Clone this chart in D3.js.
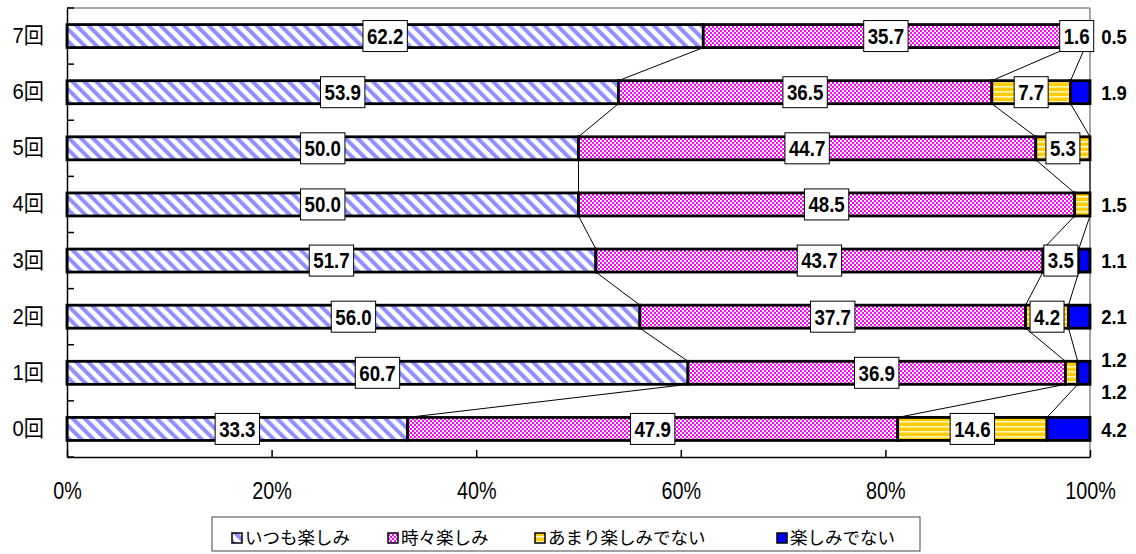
<!DOCTYPE html>
<html><head><meta charset="utf-8">
<script src="https://cdn.jsdelivr.net/npm/d3@7"></script>
<style>
html,body{margin:0;padding:0;background:#fff;}
svg{display:block;}
text{font-family:"Liberation Sans",Arial,"Noto Sans CJK JP",sans-serif;}
</style></head>
<body>
<svg id="chart" width="1136" height="554"></svg>
<script>
const categories = ["7回","6回","5回","4回","3回","2回","1回","0回"];
const seriesNames = ["いつも楽しみ","時々楽しみ","あまり楽しみでない","楽しみでない"];
const always    = [62.2, 53.9, 50.0, 50.0, 51.7, 56.0, 60.7, 33.3];
const sometimes = [35.7, 36.5, 44.7, 48.5, 43.7, 37.7, 36.9, 47.9];
const notMuch   = [1.6, 7.7, 5.3, 1.5, 3.5, 4.2, 1.2, 14.6];
const notAtAll  = [0.5, 1.9, 0, 0, 1.1, 2.1, 1.2, 4.2];
const xTicks = [0, 20, 40, 60, 80, 100];

const seriesVals = [always, sometimes, notMuch, notAtAll];
const svg = d3.select("#chart");
const L = 67, R = 1090, T = 8, B = 457;

const x = d3.scaleLinear().domain([0, 100]).range([L, R]);
const y = d3.scaleBand().domain(categories).range([T, B]).paddingInner(0.59).paddingOuter(0.295);

// patterns
const defs = svg.append("defs");
const p0 = defs.append("pattern").attr("id","pat0").attr("patternUnits","userSpaceOnUse")
  .attr("width",8.5).attr("height",8.5).attr("patternTransform","rotate(-45)");
p0.append("rect").attr("width",8.5).attr("height",8.5).attr("fill","#fff");
p0.append("rect").attr("width",4).attr("height",8.5).attr("fill","#8f8fff");

const p1 = defs.append("pattern").attr("id","pat1").attr("patternUnits","userSpaceOnUse")
  .attr("width",4).attr("height",4);
p1.append("rect").attr("width",4).attr("height",4).attr("fill","#ff00ff");
p1.append("rect").attr("width",2).attr("height",2).attr("fill","#fff");
p1.append("rect").attr("x",2).attr("y",2).attr("width",2).attr("height",2).attr("fill","#fff");

const p2 = defs.append("pattern").attr("id","pat2").attr("patternUnits","userSpaceOnUse")
  .attr("width",4).attr("height",5);
p2.append("rect").attr("width",4).attr("height",5).attr("fill","#ffcc00");
p2.append("rect").attr("y",1).attr("width",4).attr("height",1.6).attr("fill","#fff8c0");

const fills = ["url(#pat0)","url(#pat1)","url(#pat2)","#0000ff"];

// frame
svg.append("line").attr("x1",L).attr("x2",R).attr("y1",T).attr("y2",T).attr("stroke","#888").attr("stroke-width",1.5);
svg.append("line").attr("x1",R).attr("x2",R).attr("y1",T).attr("y2",B).attr("stroke","#888").attr("stroke-width",1.5);

// stacked data
const stacks = categories.map((c, i) => {
  let acc = 0;
  return seriesVals.map((s, k) => { const v = s[i]; const seg = {cat:c, k, v, x0:acc, x1:acc+v}; acc += v; return seg; });
});

// connector (series) lines
const conn = svg.append("g");
for (let i = 0; i < categories.length - 1; i++) {
  for (let k = 0; k < 3; k++) {
    conn.append("line")
      .attr("x1", x(stacks[i][k].x1)).attr("y1", y(categories[i]) + y.bandwidth())
      .attr("x2", x(stacks[i+1][k].x1)).attr("y2", y(categories[i+1]))
      .attr("stroke","#000").attr("stroke-width",1);
  }
}

// bars
const bars = svg.append("g");
stacks.forEach(row => {
  row.forEach(seg => {
    if (seg.v <= 0) return;
    bars.append("rect")
      .attr("x", x(seg.x0)).attr("y", y(seg.cat))
      .attr("width", x(seg.x1) - x(seg.x0)).attr("height", y.bandwidth())
      .attr("fill", fills[seg.k]).attr("stroke","#000").attr("stroke-width",2.8);
  });
});

// axes
const yAxis = d3.axisLeft(y).tickSize(0).tickPadding(0);
const gy = svg.append("g").attr("transform",`translate(${L},0)`).call(yAxis);
gy.select(".domain").attr("stroke","#000").attr("stroke-width",1.5);
gy.selectAll(".tick text").attr("x",0).attr("font-size",22).attr("fill","#000")
  .attr("transform","translate(-23,0) scale(0.92,1)");
// category separator ticks (inward)
const sepY = d3.range(categories.length + 1).map(j => T + j * y.step());
svg.append("g").selectAll("line").data(sepY).join("line")
  .attr("x1",L).attr("x2",L+7).attr("y1",d=>d).attr("y2",d=>d).attr("stroke","#000").attr("stroke-width",1.5);

const xAxis = d3.axisBottom(x).tickValues(xTicks).tickFormat(d => d + "%").tickSizeInner(-7).tickSizeOuter(0).tickPadding(24);
const gx = svg.append("g").attr("transform",`translate(0,${B})`).call(xAxis);
gx.select(".domain").attr("stroke","#000").attr("stroke-width",1.5);
gx.selectAll(".tick line").attr("stroke","#000").attr("stroke-width",1.5);
gx.selectAll(".tick text").attr("font-size",23).attr("fill","#000").attr("dy","0.8em")
  .attr("transform","scale(0.86,1)");

// labels
const lab = svg.append("g");
const outside = svg.append("g");
const sx = 0.85;
stacks.forEach(row => {
  const cy = y(row[0].cat) + y.bandwidth()/2;
  const outs = [];
  row.forEach(seg => {
    if (seg.v <= 0) return;
    if (seg.k < 3 && seg.v >= 1.6) {
      const cx = x((seg.x0 + seg.x1)/2);
      const g = lab.append("g").attr("transform",`translate(${cx},${cy})`);
      const rect = g.append("rect");
      const t = g.append("text").attr("x",0).attr("y",0).attr("text-anchor","middle")
        .attr("dy","0.36em").attr("font-size",22).attr("font-weight","bold")
        .attr("transform",`scale(${sx},1)`)
        .text(seg.v.toFixed(1));
      const w = t.node().getComputedTextLength() * sx;
      rect.attr("x", -w/2 - 4).attr("y", -15.5).attr("width", w + 8).attr("height", 31)
        .attr("fill","#fff").attr("stroke","#000").attr("stroke-width",1);
    } else {
      outs.push(seg);
    }
  });
  outs.forEach((seg, j) => {
    const dy = outs.length > 1 ? (j === 0 ? -13 : 19) : 0;
    outside.append("g").attr("transform",`translate(${R + 24},${cy + dy})`)
      .append("text").attr("text-anchor","middle").attr("dy","0.36em")
      .attr("font-size",21).attr("font-weight","bold").attr("transform","scale(0.88,1)")
      .text(seg.v.toFixed(1));
  });
});

// legend
const legend = svg.append("g");
legend.append("rect").attr("x",212).attr("y",517).attr("width",708).attr("height",34)
  .attr("fill","#fff").attr("stroke","#444").attr("stroke-width",1);
const legX = [232, 388, 535, 777];
seriesNames.forEach((n, k) => {
  legend.append("rect").attr("x",legX[k]).attr("y",533).attr("width",10).attr("height",10)
    .attr("fill",fills[k]).attr("stroke","#000").attr("stroke-width",1.5);
  legend.append("text").attr("x",legX[k]+13).attr("y",538).attr("dy","0.36em")
    .attr("font-size",17.5).text(n);
});
</script>
</body></html>
